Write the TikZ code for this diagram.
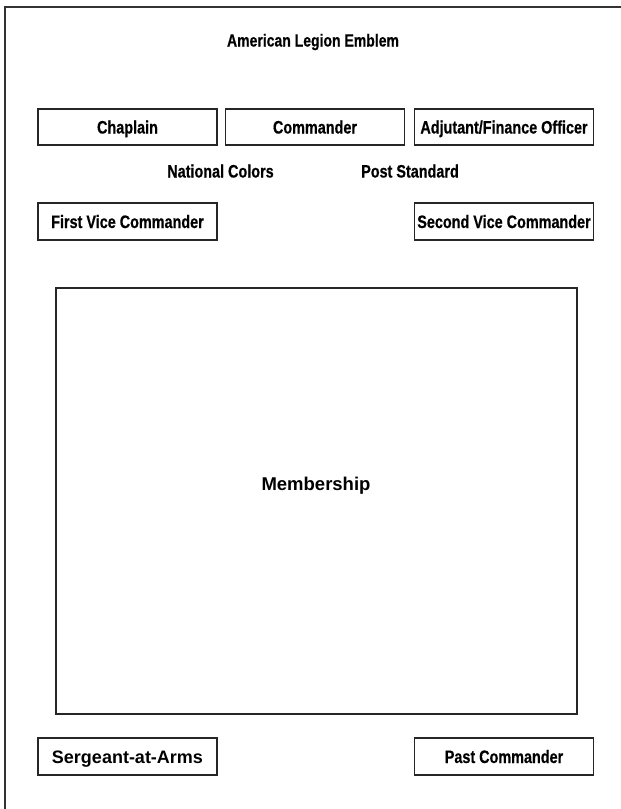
\documentclass[tikz,border=0pt]{standalone}
\usepackage{fontspec}
\setmainfont{Liberation Sans}
\newfontfamily\condfont{Liberation Sans}[FakeStretch=0.8, BoldFeatures={FakeBold=0.5}]
\begin{document}
\begin{tikzpicture}[x=1pt,y=-1pt,
  officebox/.style={draw=black!85, line width=1.3pt, rectangle,
    minimum width=179pt, minimum height=36pt, inner sep=0pt,
    text height=13pt, text depth=0pt,
    font=\condfont\bfseries\fontsize{18}{21}\selectfont},
  plainlabel/.style={inner sep=0pt, text height=13pt, text depth=0pt,
    font=\condfont\bfseries\fontsize{18}{21}\selectfont}]
  \useasboundingbox (0,0) rectangle (621,809);
  % white page background, bleeding past the fixed bounding box
  \fill[white] (-3,-3) rectangle (625,813);
  % outer frame (open at right and bottom)
  \draw[black!80, line width=1.5pt] (5,812) -- (5,7) -- (625,7);

  \node[plainlabel, font=\condfont\bfseries\fontsize{17.5}{20}\selectfont] (emblem) at (313,40) {American Legion Emblem};

  \node[officebox] (chaplain) at (127.5,127) {Chaplain};
  \node[officebox] (commander) at (315,127) {Commander};
  \node[officebox] (adjutant) at (504,127) {Adjutant/Finance Officer};

  \node[plainlabel] (colors) at (220.5,171) {National Colors};
  \node[plainlabel] (standard) at (410,171) {Post Standard};

  \node[officebox, minimum height=37pt] (firstvice) at (127.5,221.5) {First Vice Commander};
  \node[officebox, minimum height=37pt] (secondvice) at (504,221.5) {Second Vice Commander};

  \node[draw=black!85, line width=1.3pt, rectangle, inner sep=0pt,
        minimum width=521pt, minimum height=426pt] (membership) at (316.5,501) {};
  \node[inner sep=0pt, text height=13pt, text depth=0pt,
        font=\bfseries\fontsize{18.5}{22}\selectfont] (membertext) at (316,484) {Membership};

  \node[officebox, minimum height=37pt] (sergeant) at (127.5,756.5) {\rmfamily\bfseries\fontsize{18}{21}\selectfont Sergeant-at-Arms};
  \node[officebox, minimum height=37pt] (past) at (504,756.5) {Past Commander};
\end{tikzpicture}
\end{document}
